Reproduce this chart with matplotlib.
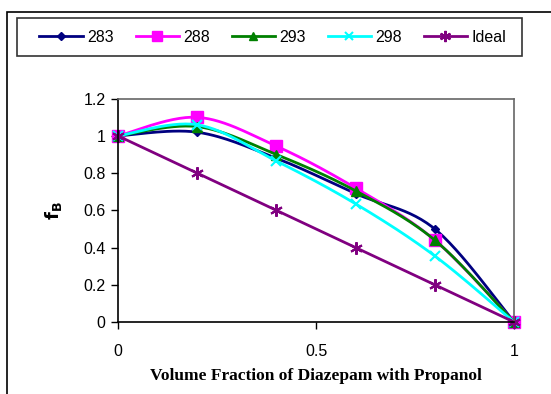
import matplotlib.pyplot as plt
from matplotlib.patches import Rectangle
import numpy as np

# Données
fraction = [0, 0.2, 0.4, 0.6, 0.8, 1]
f_283 = [1, 1.02, 0.88, 0.69, 0.50, 0]
f_288 = [1, 1.10, 0.945, 0.72, 0.44, 0]
f_293 = [1, 1.05, 0.90, 0.705, 0.44, 0]
f_298 = [1, 1.06, 0.865, 0.635, 0.355, 0]
f_ideal = [1, 0.8, 0.6, 0.4, 0.2, 0]

series = [
    ("283", f_283, "#000080", "D", 4, True),
    ("288", f_288, "#FF00FF", "s", 8, True),
    ("293", f_293, "#008000", "^", 7, True),
    ("298", f_298, "#00FFFF", "x", 7, True),
    ("Ideal", f_ideal, "#800080", (6, 2, 0), 9, False),
]


def lisse(x, y, n=30):
    # Courbe lissée façon Excel (spline de Catmull-Rom)
    x = np.asarray(x, float)
    y = np.asarray(y, float)
    px = np.concatenate([[x[0]], x, [x[-1]]])
    py = np.concatenate([[y[0]], y, [y[-1]]])
    xs, ys = [], []
    t = np.linspace(0, 1, n)
    for i in range(1, len(px) - 2):
        p0x, p1x, p2x, p3x = px[i - 1:i + 3]
        p0y, p1y, p2y, p3y = py[i - 1:i + 3]
        c1x, c1y = p1x + (p2x - p0x) / 6, p1y + (p2y - p0y) / 6
        c2x, c2y = p2x - (p3x - p1x) / 6, p2y - (p3y - p1y) / 6
        bx = (1 - t) ** 3 * p1x + 3 * (1 - t) ** 2 * t * c1x + 3 * (1 - t) * t ** 2 * c2x + t ** 3 * p2x
        by = (1 - t) ** 3 * p1y + 3 * (1 - t) ** 2 * t * c1y + 3 * (1 - t) * t ** 2 * c2y + t ** 3 * p2y
        xs.extend(bx)
        ys.extend(by)
    return xs, ys


fig = plt.figure(figsize=(5.51, 3.94), dpi=100)
ax = fig.add_axes([118 / 551, 1 - 322 / 394, (514 - 118) / 551, (322 - 98.7) / 394])

# Cadre extérieur
fig.patches.append(Rectangle((7 / 551, -0.1), 1.2, 1 - 12 / 394 + 0.1, transform=fig.transFigure,
                             fill=False, edgecolor="black", linewidth=1.2))
# Cadre de la légende
fig.patches.append(Rectangle((17 / 551, 1 - 56 / 394), 505 / 551, 38 / 394, transform=fig.transFigure,
                             fill=False, edgecolor="#333333", linewidth=1.2))

handles = []
for nom, vals, couleur, marqueur, taille, lisser in series:
    if lisser:
        xs, ys = lisse(fraction, vals)
    else:
        xs, ys = fraction, vals
    ax.plot(xs, ys, color=couleur, linewidth=2, clip_on=False)
    mew = 1.5 if marqueur in ("x", (6, 2, 0)) else 1
    ax.plot(fraction, vals, linestyle="none", marker=marqueur, markersize=taille,
            color=couleur, markeredgewidth=mew, clip_on=False)
    h, = plt.plot([], [], color=couleur, linewidth=2, marker=marqueur,
                  markersize=taille * 0.9, markeredgewidth=mew)
    handles.append(h)

ax.set_xlim(0, 1)
ax.set_ylim(0, 1.2)
ax.set_xticks([0, 0.5, 1])
ax.set_xticklabels(["0", "0.5", "1"])
ax.set_yticks([0, 0.2, 0.4, 0.6, 0.8, 1, 1.2])
ax.set_yticklabels(["0", "0.2", "0.4", "0.6", "0.8", "1", "1.2"])
ax.tick_params(axis="both", direction="out", length=5, width=1, labelsize=11.5,
               labelfontfamily="Liberation Sans")
ax.tick_params(axis="x", pad=11)
ax.tick_params(axis="y", pad=4)

ax.spines["left"].set_color("black")
ax.spines["bottom"].set_color("black")
ax.spines["top"].set_color("#666666")
ax.spines["right"].set_color("#666666")
for s in ax.spines.values():
    s.set_linewidth(1.2)

ax.set_xlabel("Volume Fraction of Diazepam with Propanol", family="Liberation Serif",
              fontweight="bold", fontsize=12.5, labelpad=6)
ax.set_ylabel("$\\mathbf{f_B}$", fontsize=13, labelpad=14)

fig.legend(handles, ["283", "288", "293", "298", "Ideal"], ncol=5,
           loc="center", bbox_to_anchor=((24 + 522) / 2 / 551, 1 - 37 / 394),
           frameon=False, handlelength=2.7, handletextpad=0.3, columnspacing=1.35,
           borderaxespad=0, prop={"family": "Liberation Sans", "size": 11.5})

fig.savefig("out.png", dpi=100)
